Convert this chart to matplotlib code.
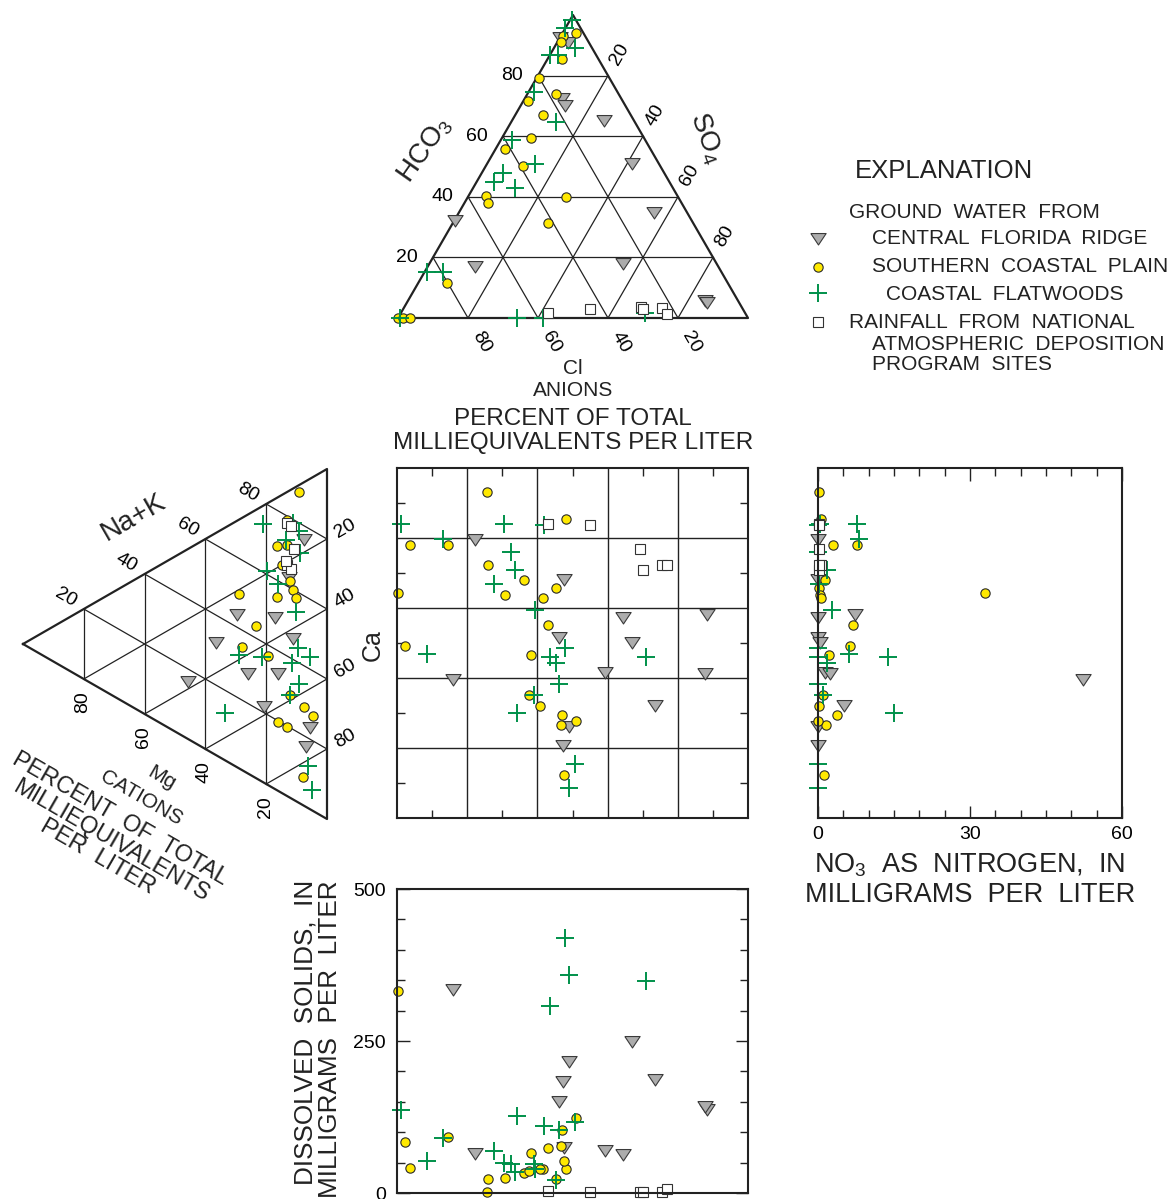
import numpy as np
import matplotlib
matplotlib.use("Agg")
import matplotlib.pyplot as plt
from matplotlib.lines import Line2D
from matplotlib.ticker import MultipleLocator

plt.rcParams["font.family"] = ["Liberation Sans", "DejaVu Sans"]
plt.rcParams["mathtext.fontset"] = "custom"
plt.rcParams["mathtext.rm"] = "Liberation Sans"
plt.rcParams["mathtext.default"] = "regular"

# ---- anion triangle, percent of total milliequivalents ----
ridge_hco3 = [92.7, 91.2, 72.5, 70.3, 65.3, 51.1, 32.3, 35.1, 17.3, 18.1, 5.9, 5.3]
ridge_so4 = [0, 3.0, 10.5, 12.5, 26.3, 41.4, 0, 55.6, 13.3, 55.2, 84.7, 85.6]
plain_hco3 = [94, 93.2, 91.2, 85.5, 79.1, 71.6, 74, 67, 59.3, 55.7, 50.2, 40.3, 38, 40,
              31.3, 11.7, 0, 0, 0]
plain_so4 = [3.8, 0.6, 1.0, 4.2, 0.7, 1.4, 8.1, 7.8, 8.3, 2.6, 10.7, 5.0, 6.6, 28,
             27.1, 8.1, 0, 1.5, 3.3]
flat_hco3 = [98.3, 95.6, 89, 86.8, 86.8, 74.7, 64.8, 58.7, 50.8, 45, 47.8, 42.8, 15.3,
             15.3, 0, 0, 0, 1.6]
flat_so4 = [0.5, 0, 6.1, 0, 2.3, 1.4, 12.7, 3.1, 13.7, 5, 6.2, 12, 0.6, 5.1, 0.6, 33.9,
            41.5, 69.8]
rain_hco3 = [1.8, 3, 3.5, 3, 3.2, 1.3]
rain_so4 = [42, 53.4, 67.7, 68.5, 73.7, 76.3]

# ---- cation triangle ----
ridge_ca = [16.3, 24.6, 26.6, 33.6, 42.6, 31.1, 45.3, 50.4, 37.7, 57.4, 71, 75.8]
ridge_mg = [7.6, 12.4, 29.7, 17.1, 11.3, 36.5, 25.9, 16, 45.6, 20.6, 5.6, 6.9]
plain_ca = [2.1, 8.1, 13.8, 15.2, 20.1, 25.9, 28.8, 28.3, 31.8, 21.4, 33.2, 36.8, 43.6,
            58.5, 64.3, 68.2, 64.2, 67, 84]
plain_mg = [9.1, 13.1, 16.3, 13.1, 14.9, 12.2, 11.3, 16.3, 10.2, 28.8, 23.2, 27.9, 19.4,
            12.2, 7.5, 4.7, 16, 13.2, 7.8]
flat_ca = [5.1, 9.9, 13.3, 13.6, 19.5, 19.2, 24.9, 35.7, 46.3, 50.9, 38.6, 42.9, 49.8,
           56.8, 58.5, 53.1, 81.7, 89.2]
flat_mg = [21.2, 11.3, 9.1, 13.5, 8.9, 19.8, 16, 10.2, 9.5, 5.7, 29, 21.5, 11.4, 9.3,
           12.2, 33.5, 6.2, 5]
rain_ca = [9, 10.4, 17.5, 20.9, 22.7, 19.6]
rain_mg = [13.1, 11.9, 10.9, 13.1, 11.9, 13.5]

# ---- per sample: square position (percent), nitrate (mg/L N), dissolved solids (mg/L) ----
ridge_sx = [22.3, 47.7, 64.4, 88.3, 46.1, 67, 59.2, 87.8, 15.9, 73.4, 48.9, 47.2]
ridge_sy = [20.4, 31.7, 42.5, 41.6, 48.3, 49.6, 58.2, 58.5, 60.4, 67.7, 73.7, 79.2]
ridge_no3 = [0, 0, 0, 7.4, 0, 0.4, 1.4, 2.4, 52.4, 5.1, 0, 0]
ridge_tds = [66, 76, 64, 138, 151, 250, 70, 143, 336, 187, 217, 184]

plain_sx = [25.5, 48.2, 3.8, 14.4, 25.9, 36.1, 45.3, 30.7, 41.5, 0.4, 42.9, 2.3, 38.3,
            37.5, 40.6, 47, 46.7, 51, 47.5]
plain_sy = [6.8, 14.7, 21.9, 22.1, 27.7, 32.1, 34.4, 36.4, 37.1, 35.8, 44.9, 50.8, 53.4,
            64.8, 68.1, 70.5, 73.5, 72.3, 87.7]
plain_no3 = [0.1, 0.5, 3.0, 7.6, 0.7, 1.3, 0.2, 0.3, 0.5, 32.9, 7.0, 6.4, 2.1, 1.0, 0.2,
             3.8, 1.5, 0, 1.2]
plain_tds = [2, 40, 41, 92, 22.5, 33.5, 23.6, 25, 40, 332, 74, 84, 66, 36, 39, 103, 77,
             123, 53]

flat_sx = [1.1, 30.4, 41.8, 13, 32.5, 33.7, 27.7, 39.4, 8.5, 47.8, 43.5, 45.3, 70.8, 46.2,
           38.9, 34.2, 50.8, 48.9]
flat_sy = [15.9, 15.9, 16.2, 20.4, 24, 29, 33, 40.7, 53, 51.5, 53.9, 55.8, 53.9, 61.8,
           64.8, 69.9, 84.6, 91.5]
flat_no3 = [0.3, 7.6, 0, 8.1, 0, 1.7, 0.2, 2.8, 6.1, 0, 13.9, 1.7, 0, 0, 1, 15, 0, 0]
flat_tds = [137, 49, 110, 90.5, 48, 35, 69, 40, 52, 419, 307, 22, 348, 103, 48, 126, 117,
            358]

rain_sx = [43, 55.1, 69.3, 70.1, 75.5, 76.9]
rain_sy = [15.9, 16.4, 23.1, 29, 27.6, 27.6]
rain_no3 = [0.2, 0.2, 0.2, 0.2, 0.5, 0.2]
rain_tds = [3.3, 1.6, 1.6, 1.6, 1.6, 6]

R3 = np.sqrt(3) / 2
EDGE = "#222222"

styles = {
    "ridge": dict(marker=[(-1, 0.65), (1, 0.65), (0, -0.85), (-1, 0.65)], ms=11,
                  mfc="#acacac", mec="#3a3a3a", mew=0.8, ls="none"),
    "plain": dict(marker="o", ms=6.7, mfc="#ffe900", mec="#2a2a2a", mew=0.8, ls="none"),
    "flat": dict(marker="+", ms=13, mec="#00904a", mew=1.4, ls="none"),
    "rain": dict(marker="s", ms=6.5, mfc="white", mec="#333333", mew=0.8, ls="none"),
}


def anion_xy(hco3, so4):
    h = np.asarray(hco3, float) / 100
    s = np.asarray(so4, float) / 100
    return s + h / 2, h * R3


def cation_xy(ca, mg):
    c = np.asarray(ca, float) / 100
    m = np.asarray(mg, float) / 100
    return R3 * (1 - m), c + m / 2


W, H = 1172, 1199
fig = plt.figure(figsize=(W / 100, H / 100), dpi=100)


def px_axes(x, y, w, h):
    return fig.add_axes([x / W, 1 - (y + h) / H, w / W, h / H])


def fig_text(x, y, s, **kw):
    fig.text(x / W, 1 - y / H, s, **kw)


# ---------------- anion triangle ----------------
ax_an = px_axes(398, 15, 350, 303)
ax_an.set_xlim(0, 1)
ax_an.set_ylim(0, R3)
ax_an.axis("off")
x, y = anion_xy([0, 100, 0, 0], [0, 0, 100, 0])
ax_an.plot(x, y, color=EDGE, lw=1.6, clip_on=False)
for k in (20, 40, 60, 80):
    for h, s in (([k, k], [0, 100 - k]), ([0, 100 - k], [k, k]), ([100 - k, 0], [0, 100 - k])):
        x, y = anion_xy(h, s)
        ax_an.plot(x, y, color=EDGE, lw=0.9, clip_on=False)
    ax_an.annotate(str(k), anion_xy(k, 0), xytext=(-15, 0), textcoords="offset pixels",
                   ha="right", va="center", fontsize=14, annotation_clip=False)
    ax_an.annotate(str(k), anion_xy(100 - k, k), xytext=(12, 21), textcoords="offset pixels",
                   ha="center", va="center", rotation=60, fontsize=14, annotation_clip=False)
    ax_an.annotate(str(k), anion_xy(0, 100 - k), xytext=(13, -24), textcoords="offset pixels",
                   ha="center", va="center", rotation=-60, fontsize=14, annotation_clip=False)
for key, hh, ss in (("ridge", ridge_hco3, ridge_so4), ("plain", plain_hco3, plain_so4),
                    ("flat", flat_hco3, flat_so4), ("rain", rain_hco3, rain_so4)):
    x, y = anion_xy(hh, ss)
    ax_an.plot(x, y, clip_on=False, **styles[key])

# ---------------- cation triangle ----------------
ax_cat = px_axes(23, 469, 304, 350)
ax_cat.set_xlim(0, R3)
ax_cat.set_ylim(1, 0)
ax_cat.axis("off")
x, y = cation_xy([0, 0, 100, 0], [100, 0, 0, 100])
ax_cat.plot(x, y, color=EDGE, lw=1.6, clip_on=False)
for k in (20, 40, 60, 80):
    for c, m in (([0, 100 - k], [k, k]), ([0, 100 - k], [100 - k, 0]), ([k, k], [0, 100 - k])):
        x, y = cation_xy(c, m)
        ax_cat.plot(x, y, color=EDGE, lw=0.9, clip_on=False)
    ax_cat.annotate(str(k), cation_xy(0, 100 - k), xytext=(-18, 11), textcoords="offset pixels",
                    ha="center", va="center", rotation=-30, fontsize=14, annotation_clip=False)
    ax_cat.annotate(str(k), cation_xy(100 - k, k), xytext=(-1, -23), textcoords="offset pixels",
                    ha="center", va="center", rotation=90, fontsize=14, annotation_clip=False)
    ax_cat.annotate(str(k), cation_xy(k, 0), xytext=(18, 10), textcoords="offset pixels",
                    ha="center", va="center", rotation=30, fontsize=14, annotation_clip=False)
for key, cc, mm in (("ridge", ridge_ca, ridge_mg), ("plain", plain_ca, plain_mg),
                    ("flat", flat_ca, flat_mg), ("rain", rain_ca, rain_mg)):
    x, y = cation_xy(cc, mm)
    ax_cat.plot(x, y, clip_on=False, **styles[key])

groups = (("ridge", ridge_sx, ridge_sy, ridge_no3, ridge_tds),
          ("plain", plain_sx, plain_sy, plain_no3, plain_tds),
          ("flat", flat_sx, flat_sy, flat_no3, flat_tds),
          ("rain", rain_sx, rain_sy, rain_no3, rain_tds))

# ---------------- central square ----------------
ax_sq = px_axes(397, 468, 351, 350)
ax_sq.set_xlim(0, 100)
ax_sq.set_ylim(100, 0)
for k in (20, 40, 60, 80):
    ax_sq.axvline(k, color=EDGE, lw=1.0)
    ax_sq.axhline(k, color=EDGE, lw=1.0)
ax_sq.set_xticks([10, 30, 50, 70, 90])
ax_sq.set_yticks([10, 30, 50, 70, 90])
ax_sq.tick_params(direction="in", length=6, width=1, top=True, right=True,
                  labelbottom=False, labelleft=False, color=EDGE)
for sp in ax_sq.spines.values():
    sp.set_linewidth(1.5)
    sp.set_color(EDGE)
for key, sx, sy, no3, tds in groups:
    ax_sq.plot(sx, sy, clip_on=False, **styles[key])

# ---------------- nitrate ----------------
ax_no = px_axes(818, 468, 304, 350)
ax_no.set_xlim(0, 60)
ax_no.set_ylim(100, 0)
ax_no.set_xticks([0, 30, 60])
ax_no.xaxis.set_minor_locator(MultipleLocator(5))
ax_no.set_yticks([])
ax_no.tick_params(axis="x", which="major", direction="in", length=9, width=1, top=True,
                  labelsize=14, pad=6, color=EDGE)
ax_no.tick_params(axis="x", which="minor", direction="in", length=6, width=1, top=True,
                  color=EDGE)
for sp in ax_no.spines.values():
    sp.set_linewidth(1.5)
    sp.set_color(EDGE)
for key, sx, sy, no3, tds in groups:
    ax_no.plot(no3, sy, clip_on=False, **styles[key])

# ---------------- dissolved solids ----------------
ax_td = px_axes(397, 889, 351, 304)
ax_td.set_xlim(0, 100)
ax_td.set_ylim(0, 500)
ax_td.set_xticks([])
ax_td.set_yticks([0, 250, 500])
ax_td.yaxis.set_minor_locator(MultipleLocator(50))
ax_td.tick_params(axis="y", which="major", direction="in", length=9, width=1, right=True,
                  labelsize=14, pad=8, color=EDGE)
ax_td.tick_params(axis="y", which="minor", direction="in", length=6, width=1, right=True,
                  color=EDGE)
for sp in ax_td.spines.values():
    sp.set_linewidth(1.5)
    sp.set_color(EDGE)
for key, sx, sy, no3, tds in groups:
    ax_td.plot(sx, tds, clip_on=False, **styles[key])

# ---------------- labels ----------------
TXT = "#222222"
fig_text(425, 150, "HCO$_3$", fontsize=20, rotation=55, ha="center", va="center", color=TXT)
fig_text(706, 138, "SO$_4$", fontsize=20, rotation=-70, ha="center", va="center", color=TXT)
fig_text(573, 368, "Cl", fontsize=15, ha="center", va="center", color=TXT)
fig_text(573, 391, "ANIONS", fontsize=15, ha="center", va="center", color=TXT)
fig_text(573, 419, "PERCENT OF TOTAL", fontsize=17.5, ha="center", va="center", color=TXT)
fig_text(573, 443, "MILLIEQUIVALENTS PER LITER", fontsize=17.5, ha="center", va="center",
         color=TXT)
fig_text(373, 645, "Ca", fontsize=18, rotation=90, ha="center", va="center", color=TXT)
fig_text(134, 517, "Na+K", fontsize=20, rotation=30, ha="center", va="center", color=TXT)
fig_text(162, 778, "Mg", fontsize=15, rotation=-30, ha="center", va="center", color=TXT)
fig_text(141, 798, "CATIONS", fontsize=15, rotation=-30, ha="center", va="center", color=TXT)
fig_text(120, 819, "PERCENT  OF  TOTAL", fontsize=17, rotation=-30, ha="center", va="center",
         color=TXT)
fig_text(111, 841, "MILLIEQUIVALENTS", fontsize=17, rotation=-30, ha="center", va="center",
         color=TXT)
fig_text(98, 857, "PER  LITER", fontsize=17, rotation=-30, ha="center", va="center", color=TXT)
fig_text(970, 865, "NO$_3$  AS  NITROGEN,  IN", fontsize=19.5, ha="center", va="center",
         color=TXT)
fig_text(970, 895, "MILLIGRAMS  PER  LITER", fontsize=19.5, ha="center", va="center",
         color=TXT)
fig_text(305, 880, "DISSOLVED  SOLIDS,  IN", fontsize=18.8, rotation=90, ha="center",
         va="top", color=TXT)
fig_text(330, 880, "MILLIGRAMS  PER  LITER", fontsize=18.8, rotation=90, ha="center",
         va="top", color=TXT)

# ---------------- explanation ----------------
fig_text(855, 171, "EXPLANATION", fontsize=18.5, ha="left", va="center", color=TXT)
fig_text(849, 213, "GROUND  WATER  FROM", fontsize=15, ha="left", va="center", color=TXT)
fig_text(872, 239, "CENTRAL  FLORIDA  RIDGE", fontsize=15, ha="left", va="center", color=TXT)
fig_text(872, 267, "SOUTHERN  COASTAL  PLAIN", fontsize=15, ha="left", va="center", color=TXT)
fig_text(886, 294, "COASTAL  FLATWOODS", fontsize=15, ha="left", va="center", color=TXT)
fig_text(849, 322, "RAINFALL  FROM  NATIONAL", fontsize=15, ha="left", va="center", color=TXT)
fig_text(872, 344, "ATMOSPHERIC  DEPOSITION", fontsize=15, ha="left", va="center", color=TXT)
fig_text(872, 365, "PROGRAM  SITES", fontsize=15, ha="left", va="center", color=TXT)
for key, ly in (("ridge", 238), ("plain", 267), ("flat", 293), ("rain", 322)):
    fig.add_artist(Line2D([818 / W], [1 - ly / H], transform=fig.transFigure, **styles[key]))

fig.savefig("out.png", dpi=100)
